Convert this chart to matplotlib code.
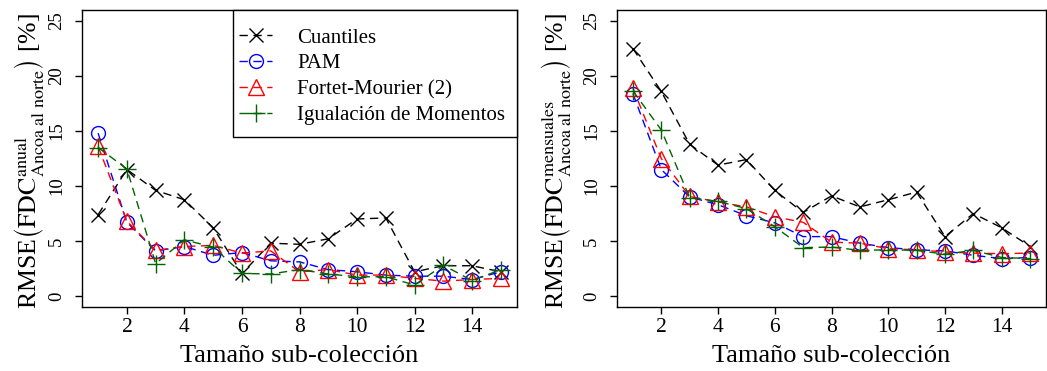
import numpy as np
import matplotlib
matplotlib.use("Agg")
import matplotlib.pyplot as plt
from matplotlib.patches import Rectangle

plt.rcParams['font.family'] = ['Liberation Serif', 'DejaVu Serif']
plt.rcParams['mathtext.fontset'] = 'stix'

# tamaños de sub-colección
tam = np.arange(1, 16)

# RMSE FDC anual [%]
anual_cuantiles = [7.4, 11.5, 9.6, 8.75, 6.2, 2.05, 4.8, 4.7, 5.2, 7.0, 7.1, 2.2, 2.75, 2.75, 2.2]
anual_pam = [14.8, 6.7, 4.1, 4.5, 3.7, 3.95, 3.2, 3.1, 2.4, 2.2, 1.9, 1.8, 1.8, 1.5, 2.2]
anual_fm = [13.6, 6.8, 4.15, 4.5, 4.6, 3.9, 4.1, 2.2, 2.4, 1.9, 1.9, 1.6, 1.35, 1.5, 1.6]
anual_mom = [13.5, 11.55, 2.95, 5.1, 4.45, 2.05, 2.0, 2.4, 2.0, 1.75, 1.75, 1.0, 2.8, 1.4, 2.4]

# RMSE FDC mensuales [%]
mens_cuantiles = [22.5, 18.6, 13.8, 11.9, 12.4, 9.6, 7.6, 9.1, 8.1, 8.75, 9.45, 5.4, 7.5, 6.2, 4.5]
mens_pam = [18.4, 11.5, 9.0, 8.3, 7.3, 6.65, 5.4, 5.4, 4.8, 4.4, 4.2, 4.1, 3.7, 3.4, 3.5]
mens_fm = [18.9, 12.5, 9.05, 8.55, 8.1, 7.2, 6.7, 4.9, 4.8, 4.3, 4.2, 4.0, 3.9, 3.85, 3.9]
mens_mom = [18.65, 15.1, 8.95, 8.6, 7.95, 6.3, 4.4, 4.45, 4.15, 4.2, 4.15, 3.8, 4.15, 3.5, 3.4]

etiquetas = ['Cuantiles', 'PAM', 'Fortet-Mourier (2)', 'Igualación de Momentos']
colores = ['black', 'blue', 'red', 'darkgreen']
marcas = ['x', 'o', '^', '+']
tamanos = [10, 10, 12, 13]

W, H = 1047, 371
fig = plt.figure(figsize=(W/100, H/100), dpi=100)
ax1 = fig.add_axes([82/W, 1-307/H, 435/W, 297/H])
ax2 = fig.add_axes([617/W, 1-307/H, 429/W, 297/H])


def dibujar(ax, series, sup):
    for y, c, m, ms, lab in zip(series, colores, marcas, tamanos, etiquetas):
        ax.plot(tam, y, color=c, marker=m, markersize=ms, markerfacecolor='none',
                markeredgewidth=1.0, linewidth=1.0, dashes=(6, 4), label=lab)
    ax.set_xlim(0.44, 15.56)
    ax.set_ylim(-1, 26)
    ax.set_xticks(range(2, 15, 2))
    ax.set_yticks(range(0, 26, 5))
    ax.tick_params(direction='out', length=5, width=1)
    ax.tick_params(axis='x', labelsize=15.5, pad=3)
    ax.tick_params(axis='y', labelsize=13.5, pad=7)
    for lab in ax.get_yticklabels():
        lab.set_rotation(90)
        lab.set_va('center')
    for s in ax.spines.values():
        s.set_linewidth(1.0)
    ax.set_xlabel('Tamaño sub-colección', fontsize=19, labelpad=6)
    ax.set_ylabel(r'RMSE$\left(\mathrm{FDC}^{\mathrm{%s}}_{\mathrm{Ancoa\ al\ norte}}\right)$ [%%]' % sup,
                  fontsize=18.6, va='center')


dibujar(ax1, [anual_cuantiles, anual_pam, anual_fm, anual_mom], 'anual')
dibujar(ax2, [mens_cuantiles, mens_pam, mens_fm, mens_mom], 'mensuales')
ax1.yaxis.set_label_coords(-52/435, 0.49)
ax2.yaxis.set_label_coords(-60/429, 0.49)

# leyenda con marco propio (más relleno vertical que horizontal)
ax1.add_patch(Rectangle(((233-82)/435, (307-137)/297), 1-(233-82)/435, 127/297,
                        transform=ax1.transAxes, facecolor='white', edgecolor='black',
                        linewidth=1.0, zorder=4, clip_on=False))
leg = ax1.legend(loc='upper left', bbox_to_anchor=(239/W, 1-28/H), bbox_transform=fig.transFigure,
                 borderaxespad=0, borderpad=0, fontsize=15, frameon=False,
                 handlelength=1.6, handletextpad=1.2, labelspacing=0.3)
leg.set_zorder(5)

fig.savefig('out.png', dpi=100)
